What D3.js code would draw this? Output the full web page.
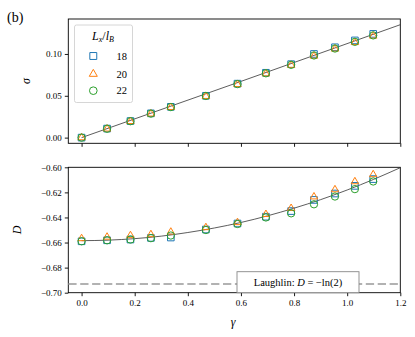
<!DOCTYPE html>
<html>
<head>
<meta charset="utf-8">
<script src="https://cdn.jsdelivr.net/npm/d3@7"></script>
<style>
  body { margin: 0; background: #fff; }
  svg text { font-family: "Liberation Serif", "DejaVu Serif", serif; fill: #000; }
</style>
</head>
<body>
<div id="chart"></div>
<script>
// data
var gamma = [0, 0.096, 0.184, 0.261, 0.336, 0.468, 0.587, 0.694, 0.789, 0.875, 0.954, 1.029, 1.098];
var sigma18 = [0, 0.0108, 0.0198, 0.0290, 0.0368, 0.0500, 0.0645, 0.0775, 0.0878, 0.1000, 0.1080, 0.1162, 0.1240];
var sigma20 = [0, 0.0104, 0.0194, 0.0284, 0.0362, 0.0494, 0.0636, 0.0764, 0.0866, 0.0975, 0.1060, 0.1138, 0.1215];
var sigma22 = [0, 0.0106, 0.0196, 0.0287, 0.0365, 0.0498, 0.0640, 0.0769, 0.0870, 0.0982, 0.1065, 0.1145, 0.1222];
var D18 = [-0.6590, -0.6582, -0.6576, -0.6563, -0.6560, -0.6496, -0.6448, -0.6394, -0.6349, -0.6260, -0.6209, -0.6148, -0.6094];
var D20 = [-0.6568, -0.6556, -0.6544, -0.6536, -0.6516, -0.6480, -0.6440, -0.6375, -0.6327, -0.6235, -0.6178, -0.6114, -0.6058];
var D22 = [-0.6590, -0.6582, -0.6576, -0.6565, -0.6544, -0.6500, -0.6452, -0.6400, -0.6367, -0.6295, -0.6233, -0.6174, -0.6113];
var fitSigmaX = [0, 0.6, 1.2];
var fitSigmaY = [0, 0.0672, 0.135];
var fitDX = [0, 0.1, 0.2, 0.3, 0.4, 0.5, 0.6, 0.7, 0.8, 0.9, 1.0, 1.1, 1.2];
var fitDY = [-0.6585, -0.6581, -0.6569, -0.6549, -0.6520, -0.6484, -0.6440, -0.6387, -0.6326, -0.6258, -0.6181, -0.6096, -0.6003];
var laughlinD = -0.6931;
var sizes = ["18", "20", "22"];
var colors = ["#1f77b4", "#ff7f0e", "#2ca02c"];
var shapes = [d3.symbolSquare, d3.symbolTriangle, d3.symbolCircle];
var xTicks = [0.0, 0.2, 0.4, 0.6, 0.8, 1.0, 1.2];
var sigmaTicks = [0.00, 0.05, 0.10];
var DTicks = [-0.70, -0.68, -0.66, -0.64, -0.62, -0.60];

var W = 415, H = 337;
var left = 68.3, right = 400.3;
var symSizes = [44, 24, 42];
var svg = d3.select("#chart").append("svg").attr("width", W).attr("height", H);

var x = d3.scaleLinear().domain([-0.05, 1.2]).range([left, right]);
var ySig = d3.scaleLinear().domain([-0.0068, 0.1418]).range([143.3, 19]);
var yD = d3.scaleLinear().domain([-0.70, -0.60]).range([292.7, 167.3]);

var fmt2 = function(d) { return d3.format(".2f")(d).replace("-", "\u2212"); };

function panel(y, yTicks, yLabel, labelX, showX) {
  var g = svg.append("g");
  var y0 = y.range()[0], y1 = y.range()[1];
  // axes
  var ax = g.append("g").attr("transform", "translate(0," + y0 + ")")
    .call(d3.axisBottom(x).tickValues(xTicks).tickSize(3.5).tickPadding(3)
      .tickFormat(showX ? d3.format(".1f") : ""));
  var ay = g.append("g").attr("transform", "translate(" + left + ",0)")
    .call(d3.axisLeft(y).tickValues(yTicks).tickSize(3.5).tickPadding(3).tickFormat(fmt2));
  [ax, ay].forEach(function(a) {
    a.attr("font-family", null);
    a.select(".domain").remove();
    a.selectAll("line").attr("stroke", "#000").attr("stroke-width", 0.9);
    a.selectAll("text").attr("font-size", 9);
  });
  g.append("rect").attr("x", left).attr("y", y1).attr("width", right - left).attr("height", y0 - y1)
    .attr("fill", "none").attr("stroke", "#000").attr("stroke-width", 0.9);
  g.append("text").attr("transform", "translate(" + labelX + "," + ((y0 + y1) / 2) + ") rotate(-90)")
    .attr("text-anchor", "middle").attr("font-style", "italic").attr("font-size", 12).text(yLabel);
  return g;
}

function markers(g, y, series) {
  series.forEach(function(vals, k) {
    g.append("g").selectAll("path").data(vals).join("path")
      .attr("transform", function(d, i) { return "translate(" + x(gamma[i]) + "," + y(d) + ")"; })
      .attr("d", d3.symbol().type(shapes[k]).size(symSizes[k]))
      .attr("fill", "none").attr("stroke", colors[k]).attr("stroke-width", 1);
  });
}

// top panel: sigma
var g1 = panel(ySig, sigmaTicks, "\u03c3", 30, false);
var fitS = fitSigmaX.map(function(v, i) { return [v, fitSigmaY[i]]; });
g1.append("path").datum(fitS)
  .attr("d", d3.line().x(function(d) { return x(d[0]); }).y(function(d) { return ySig(d[1]); }))
  .attr("fill", "none").attr("stroke", "#333").attr("stroke-width", 0.8);
markers(g1, ySig, [sigma18, sigma20, sigma22]);

// legend
var lg = svg.append("g");
lg.append("rect").attr("x", 74.5).attr("y", 25).attr("width", 58).attr("height", 77.5).attr("rx", 2)
  .attr("fill", "#fff").attr("fill-opacity", 0.8).attr("stroke", "#ccc").attr("stroke-width", 0.8);
var lt = lg.append("text").attr("x", 103).attr("y", 40).attr("text-anchor", "middle").attr("font-size", 12)
  .attr("font-style", "italic");
lt.append("tspan").text("L");
lt.append("tspan").attr("font-size", 8).attr("dy", 2).text("x");
lt.append("tspan").attr("dy", -2).attr("font-style", "normal").text("/");
lt.append("tspan").text("l");
lt.append("tspan").attr("font-size", 8).attr("dy", 2).text("B");
var rowY = [56, 74, 90.7];
sizes.forEach(function(s, k) {
  lg.append("path").attr("transform", "translate(93.3," + rowY[k] + ")")
    .attr("d", d3.symbol().type(shapes[k]).size(symSizes[k] + 4))
    .attr("fill", "none").attr("stroke", colors[k]).attr("stroke-width", 1);
  lg.append("text").attr("x", 127).attr("y", rowY[k] + 3.5).attr("text-anchor", "end")
    .attr("font-size", 10.5).text(s);
});

// bottom panel: D
var g2 = panel(yD, DTicks, "D", 21, true);
g2.append("line").attr("x1", left).attr("x2", right).attr("y1", yD(laughlinD)).attr("y2", yD(laughlinD))
  .attr("stroke", "#999").attr("stroke-width", 1.5).attr("stroke-dasharray", "8.3,3.6");
var fitD = fitDX.map(function(v, i) { return [v, fitDY[i]]; });
g2.append("path").datum(fitD)
  .attr("d", d3.line().curve(d3.curveMonotoneX).x(function(d) { return x(d[0]); }).y(function(d) { return yD(d[1]); }))
  .attr("fill", "none").attr("stroke", "#333").attr("stroke-width", 0.8);
markers(g2, yD, [D18, D20, D22]);

// Laughlin annotation box
var bx = svg.append("g");
bx.append("rect").attr("x", 237).attr("y", 271.7).attr("width", 122).attr("height", 21)
  .attr("fill", "#fff").attr("stroke", "#888").attr("stroke-width", 0.9);
var bt = bx.append("text").attr("x", 298).attr("y", 285.8).attr("text-anchor", "middle").attr("font-size", 10.5);
bt.append("tspan").text("Laughlin:  ");
bt.append("tspan").attr("font-style", "italic").text("D");
bt.append("tspan").text(" = \u2212ln(2)");

// x label and panel tag
svg.append("text").attr("x", 233).attr("y", 326).attr("text-anchor", "middle")
  .attr("font-style", "italic").attr("font-size", 12).text("\u03b3");
svg.append("text").attr("x", 7).attr("y", 22).attr("font-size", 14).text("(b)");
</script>
</body>
</html>
